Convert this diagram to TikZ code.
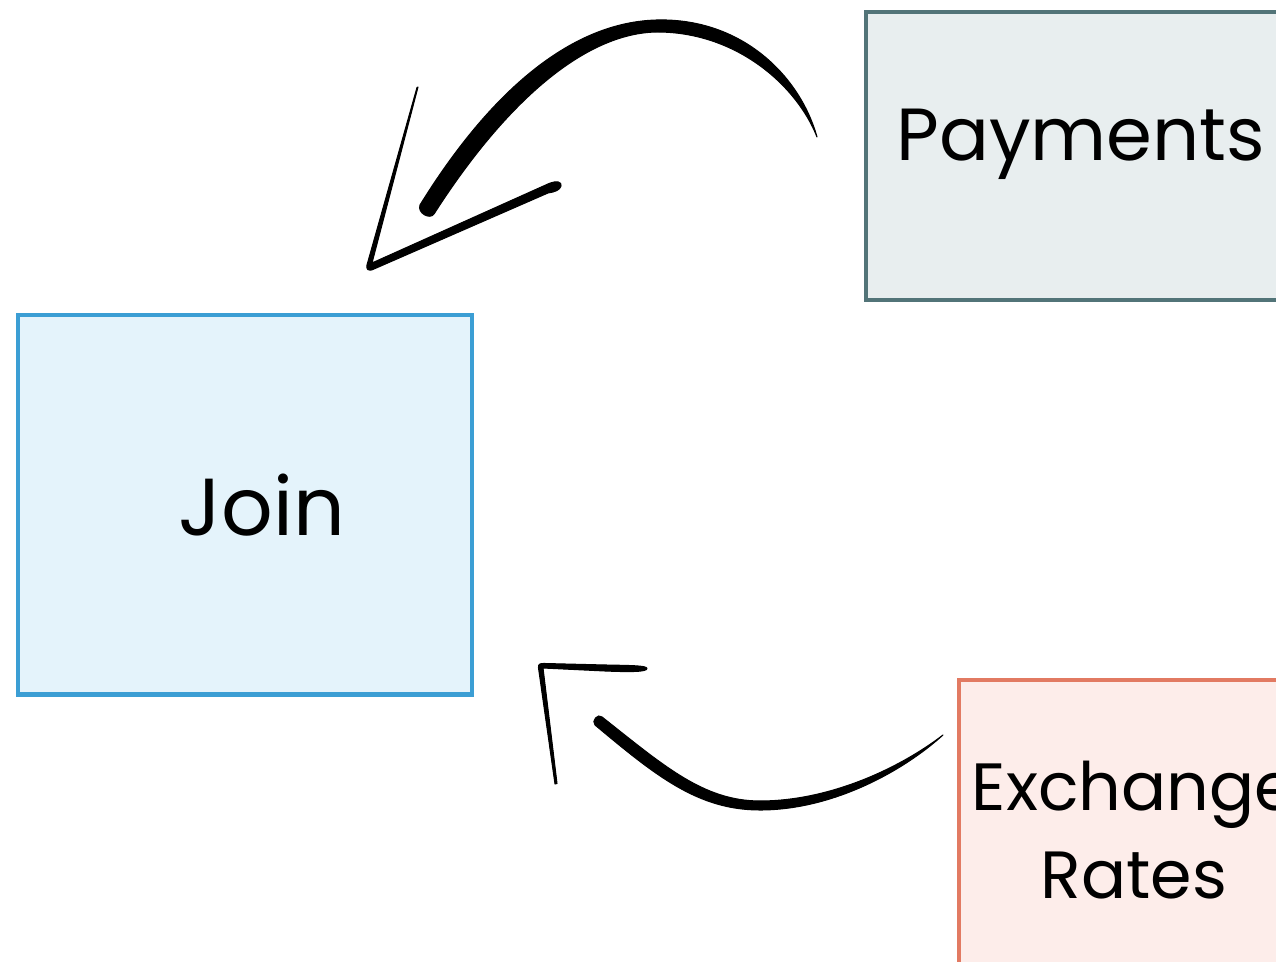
\documentclass[tikz,border=0pt]{standalone}
\usepackage{fontspec}
\setmainfont{Poppins}
\usepackage{tikz}

\definecolor{joinfill}{HTML}{E4F3FB}
\definecolor{joinline}{HTML}{3B9ED4}
\definecolor{payfill}{HTML}{E8EEEF}
\definecolor{payline}{HTML}{527478}
\definecolor{ratefill}{HTML}{FDEDEA}
\definecolor{rateline}{HTML}{E27A62}

\begin{document}
\begin{tikzpicture}[
        x = 0.01cm,
        y = -0.01cm,
        box/.style = {
            draw,
            rectangle,
            line width = 1.2pt,
            inner sep = 0pt,
            font = \fontsize{23}{28}\selectfont
        },
        ink/.style = {
            fill = black,
            draw = black,
            line width = 0.3pt,
            line join = round
        }
            ]
            \useasboundingbox (0,0) rectangle (1276,962);
            \clip (0,0) rectangle (1276,962);
            \fill[white] (0,0) rectangle (1276,962);
            
            % the three tables
            \node[box, draw=joinline, fill=joinfill, minimum width=4.54cm, minimum height=3.79cm] (join) at (245,505) {\hspace*{0.34cm}Join};
            \node[box, draw=payline, fill=payfill, minimum width=4.3cm, minimum height=2.88cm, text depth=0.42cm, font=\fontsize{21}{26}\selectfont] (payments) at (1081,156) {Payments};
            \node[box, draw=rateline, fill=ratefill, minimum width=3.5cm, minimum height=3cm, align=center, font=\fontsize{19}{25}\selectfont] (rates) at (1134,830) {Exchange\\Rates};
            
            % ends of the hand drawn arrows
            \coordinate (pay-tail) at (817,137);
            \coordinate (rate-tail) at (943,735);
            \coordinate (join-top) at (418,87);
            \coordinate (join-side) at (555,784);
            
            % payments -> join
            \path[ink] (pay-tail) .. controls (800,76) and (742,18) .. (657,20)
                .. controls (574,22) and (493,87) .. (420,205)
                .. controls (417,213) and (430,220) .. (434,214)
                .. controls (507,100) and (586,33) .. (657,32)
                .. controls (737,32) and (797,86) .. (pay-tail) -- cycle;
            \path[ink] (join-top) -- (372,263) -- (548,184)
                .. controls (557,180) and (562,182) .. (561,186)
                .. controls (560,190) and (555,192) .. (548,193)
                -- (374,269) .. controls (368,272) and (366,269) .. (367,265)
                -- (417,87.5) -- cycle;
            
            % exchange rates -> join
            \path[ink] (rate-tail) .. controls (902,772) and (832,810) .. (760,810)
                .. controls (698,810) and (656,776) .. (595,725)
                .. controls (591,721) and (598,713) .. (602,717)
                .. controls (663,765) and (703,801) .. (760,801)
                .. controls (830,801) and (900,768) .. (rate-tail) -- cycle;
            \path[ink] (join-side) -- (538.5,668)
                .. controls (538,664) and (540,663.5) .. (544,663.5)
                -- (605,665) .. controls (630,665.5) and (647,665.5) .. (647,668.5)
                .. controls (647,672) and (630,672) .. (605,671)
                -- (543,668) -- (557,783.5) -- cycle;
            
        \end{tikzpicture}
\end{document}
